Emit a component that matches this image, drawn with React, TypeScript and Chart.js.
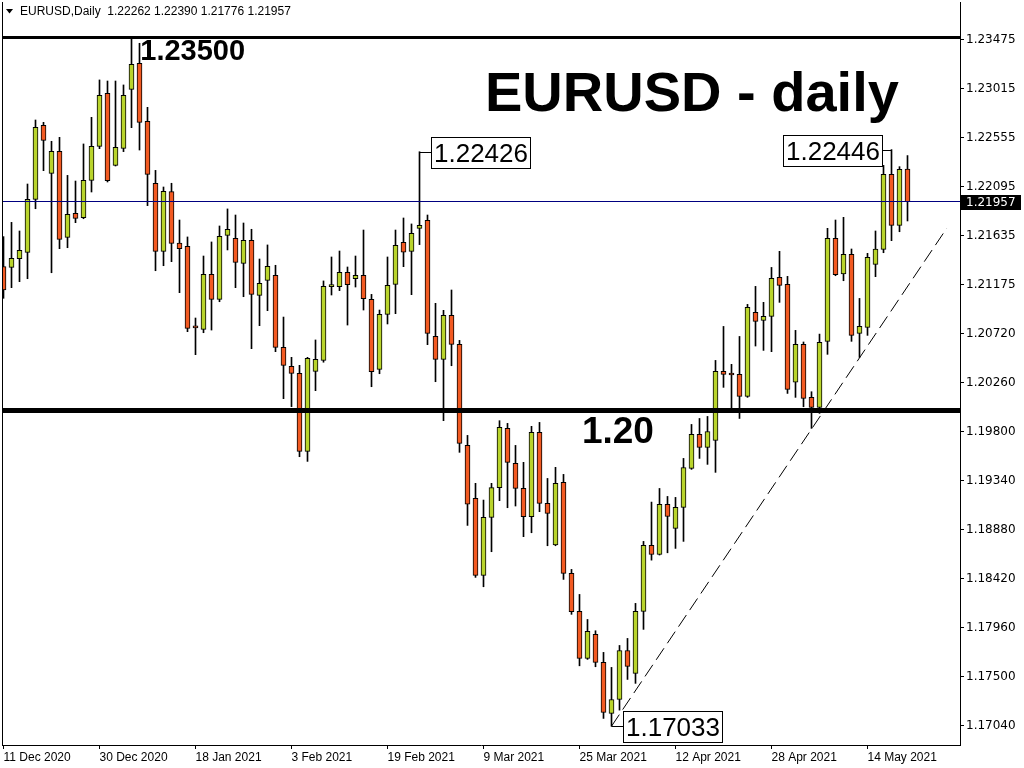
import React, { useEffect, useRef } from "react";
import { Chart, registerables } from "chart.js";

Chart.register(...registerables);

// ---- data ----
const opens = [
  1.21347, 1.2134, 1.21422, 1.21481, 1.21979, 1.22674, 1.22223, 1.2243, 1.21622, 1.21847,
  1.21807, 1.22157, 1.22477, 1.22974, 1.22298, 1.22458, 1.23012, 1.23256, 1.22711, 1.22129,
  1.21491, 1.22051, 1.21569, 1.21538, 1.20776, 1.20759, 1.21275, 1.2104, 1.21641, 1.21613,
  1.21378, 1.21594, 1.21078, 1.21219, 1.21266, 1.2059, 1.20411, 1.20346, 1.19613, 1.20364,
  1.20468, 1.2116, 1.21159, 1.21294, 1.21234, 1.21266, 1.2104, 1.20383, 1.20899, 1.21181,
  1.21575, 1.21491, 1.21707, 1.21782, 1.20693, 1.20477, 1.2089, 1.20618, 1.19669, 1.19172,
  1.18449, 1.18993, 1.19272, 1.19829, 1.195, 1.19266, 1.19, 1.19791, 1.19125, 1.18734,
  1.19322, 1.18467, 1.18111, 1.17669, 1.17895, 1.17632, 1.17153, 1.17284, 1.17744, 1.17529,
  1.18111, 1.1873, 1.18645, 1.19115, 1.1889, 1.19087, 1.19453, 1.19772, 1.1965, 1.19716,
  1.20364, 1.20336, 1.20336, 1.20129, 1.20918, 1.20843, 1.2088, 1.21246, 1.21181, 1.20262,
  1.20617, 1.2012, 1.20026, 1.20646, 1.21613, 1.21278, 1.21462, 1.20721, 1.20777, 1.21369,
  1.2151, 1.22214, 1.21735, 1.22262,
];
const highs = [
  1.21629, 1.21763, 1.21682, 1.22123, 1.22724, 1.22702, 1.22524, 1.22561, 1.22204, 1.22151,
  1.22499, 1.22749, 1.231, 1.2309, 1.2309, 1.23053, 1.23491, 1.23444, 1.22843, 1.22251,
  1.22095, 1.2213, 1.21785, 1.21626, 1.20865, 1.21447, 1.21579, 1.21729, 1.21889, 1.21832,
  1.21757, 1.21698, 1.21419, 1.21551, 1.2136, 1.20874, 1.20496, 1.20421, 1.20496, 1.20659,
  1.21213, 1.21438, 1.21494, 1.21344, 1.21447, 1.21691, 1.21087, 1.2094, 1.21438, 1.21691,
  1.21804, 1.21748, 1.22426, 1.21832, 1.21003, 1.20937, 1.21128, 1.20655, 1.19763, 1.19313,
  1.19156, 1.19313, 1.19901, 1.19876, 1.19669, 1.1951, 1.19848, 1.19885, 1.19359, 1.19463,
  1.19397, 1.18505, 1.1827, 1.18035, 1.17929, 1.17726, 1.17585, 1.17791, 1.17857, 1.18186,
  1.18768, 1.19137, 1.19265, 1.1919, 1.19181, 1.19547, 1.19866, 1.19922, 1.19941, 1.20467,
  1.20786, 1.2043, 1.20692, 1.20993, 1.21162, 1.21012, 1.2134, 1.21491, 1.21256, 1.20749,
  1.2064, 1.20173, 1.20714, 1.21707, 1.21785, 1.2181, 1.21513, 1.21049, 1.21472, 1.21682,
  1.22298, 1.22446, 1.22286, 1.2239,
];
const lows = [
  1.2105, 1.2115, 1.21206, 1.21234, 1.21891, 1.22248, 1.2129, 1.21516, 1.21525, 1.2176,
  1.21797, 1.22048, 1.22455, 1.22142, 1.22292, 1.22427, 1.22652, 1.22442, 1.2192, 1.21309,
  1.21356, 1.21394, 1.21103, 1.20737, 1.20521, 1.20727, 1.20752, 1.21018, 1.21504, 1.2115,
  1.21065, 1.20577, 1.20793, 1.20934, 1.20549, 1.20108, 1.20033, 1.19563, 1.19519, 1.20183,
  1.2045, 1.21081, 1.21122, 1.20799, 1.21156, 1.2094, 1.2022, 1.20342, 1.20809, 1.20906,
  1.21347, 1.21084, 1.21554, 1.20615, 1.20267, 1.19901, 1.20417, 1.19604, 1.18918, 1.1843,
  1.18342, 1.18671, 1.1915, 1.19084, 1.191, 1.18812, 1.18849, 1.19047, 1.18727, 1.18727,
  1.18411, 1.18083, 1.176, 1.1766, 1.17591, 1.17106, 1.17033, 1.17184, 1.17472, 1.17435,
  1.17942, 1.18592, 1.1864, 1.18661, 1.18702, 1.18768, 1.19444, 1.19547, 1.19491, 1.19416,
  1.20214, 1.20016, 1.19922, 1.2012, 1.20602, 1.20561, 1.20549, 1.21012, 1.20157, 1.2012,
  1.20032, 1.19829, 1.1997, 1.20524, 1.21262, 1.21215, 1.20646, 1.20495, 1.20702, 1.21253,
  1.21478, 1.21591, 1.21675, 1.21776,
];
const closes = [
  1.21128, 1.21425, 1.215, 1.21979, 1.22655, 1.22533, 1.2243, 1.21603, 1.21838, 1.21801,
  1.22157, 1.22477, 1.22956, 1.22154, 1.22467, 1.22956, 1.23247, 1.22702, 1.22214, 1.21491,
  1.22054, 1.21566, 1.21516, 1.20768, 1.20772, 1.21275, 1.2104, 1.21632, 1.21698, 1.21388,
  1.21594, 1.21087, 1.21191, 1.2135, 1.2059, 1.20421, 1.20346, 1.19613, 1.20486, 1.20477,
  1.21163, 1.21166, 1.21294, 1.21178, 1.21266, 1.21047, 1.20361, 1.20899, 1.21172, 1.21547,
  1.21482, 1.2166, 1.21735, 1.20721, 1.20477, 1.2089, 1.20618, 1.19688, 1.19118, 1.18449,
  1.18993, 1.19272, 1.19838, 1.1951, 1.19266, 1.19, 1.19791, 1.19125, 1.19031, 1.19313,
  1.18467, 1.18108, 1.17669, 1.17923, 1.17632, 1.17162, 1.17284, 1.17744, 1.17594, 1.18111,
  1.1873, 1.18645, 1.19115, 1.19002, 1.19087, 1.19462, 1.19772, 1.1965, 1.198, 1.20365,
  1.20336, 1.2033, 1.20129, 1.20965, 1.20833, 1.2088, 1.21237, 1.21171, 1.20195, 1.20617,
  1.2011, 1.20026, 1.20636, 1.21613, 1.21272, 1.21462, 1.20702, 1.20786, 1.21434, 1.21513,
  1.22214, 1.21735, 1.22261, 1.21957,
];

const xTickIndex = [0, 12, 24, 36, 48, 60, 72, 84, 96, 108];
const xTickLabels = [
  "11 Dec 2020", "30 Dec 2020", "18 Jan 2021", "3 Feb 2021", "19 Feb 2021",
  "9 Mar 2021", "25 Mar 2021", "12 Apr 2021", "28 Apr 2021", "14 May 2021",
];
const yTickValues = [
  1.1704, 1.175, 1.1796, 1.1842, 1.1888, 1.1934, 1.198, 1.2026, 1.2072, 1.21175,
  1.21635, 1.22095, 1.22555, 1.23015, 1.23475,
];
const lastPrice = 1.21957;
const headerText = "EURUSD,Daily  1.22262 1.22390 1.21776 1.21957";
const titleText = "EURUSD - daily";
const levelPrices = [1.235, 1.2];
const levelWidths = [3, 5];
const trendLine = [
  { x: 76, y: 1.17033 },
  { x: 117.9, y: 1.21707 },
];
const markIndex = [52, 111, 76];
const markPrice = [1.22426, 1.22446, 1.17033];
const markSide = [1, -1, 1];
const noteTexts = ["1.23500", "1.20"];
const noteIndex = [17.1, 72.3];
const notePrice = [1.2329, 1.19692];
const noteSizes = [29, 37];

const BULL = "#B9D42C";
const BEAR = "#F25A22";
const FONT = "'Liberation Sans', Arial, sans-serif";
const AXIS_FONT = "'DejaVu Sans', Verdana, sans-serif";

const overlay = {
  id: "overlay",
  afterDatasetsDraw(chart: any) {
    const { ctx, chartArea: a, scales } = chart;
    const x = scales.x;
    const y = scales.y;
    ctx.save();
    ctx.beginPath();
    ctx.rect(a.left, a.top, a.right - a.left, a.bottom - a.top);
    ctx.clip();
    ctx.fillStyle = "#000";
    levelPrices.forEach((p, i) => {
      const py = y.getPixelForValue(p);
      const w = levelWidths[i];
      ctx.fillRect(a.left, Math.round(py - w / 2), a.right - a.left, w);
    });
    const lp = Math.round(y.getPixelForValue(lastPrice) - 0.5);
    ctx.fillStyle = "#000080";
    ctx.fillRect(a.left, lp, a.right - a.left, 1);
    ctx.fillStyle = "#000";
    ctx.textBaseline = "alphabetic";
    ctx.textAlign = "left";
    noteTexts.forEach((t, i) => {
      ctx.font = `bold ${noteSizes[i]}px ${FONT}`;
      ctx.fillText(t, x.getPixelForValue(noteIndex[i]), y.getPixelForValue(notePrice[i]));
    });
    ctx.font = `26px ${FONT}`;
    markIndex.forEach((idx, i) => {
      const cx = x.getPixelForValue(idx);
      const py = Math.round(y.getPixelForValue(markPrice[i])) + 0.5;
      const txt = markPrice[i].toFixed(5);
      const tw = ctx.measureText(txt).width;
      const bw = Math.round(tw + 5);
      const bh = 31;
      const side = markSide[i];
      const bx = side > 0 ? Math.round(cx + 11) : Math.round(cx - 10 - bw);
      const by = Math.round(py - bh / 2);
      ctx.strokeStyle = "#000";
      ctx.lineWidth = 1;
      ctx.beginPath();
      if (side > 0) {
        ctx.moveTo(cx, py);
        ctx.lineTo(bx, py);
      } else {
        ctx.moveTo(bx + bw, py);
        ctx.lineTo(cx, py);
      }
      ctx.stroke();
      ctx.fillStyle = "#fff";
      ctx.fillRect(bx + 0.5, by + 0.5, bw, bh);
      ctx.strokeRect(bx + 0.5, by + 0.5, bw, bh);
      ctx.fillStyle = "#000";
      ctx.textAlign = "center";
      ctx.textBaseline = "middle";
      ctx.fillText(txt, bx + 0.5 + bw / 2, by + bh / 2 + 2);
      ctx.textAlign = "left";
      ctx.textBaseline = "alphabetic";
    });
    ctx.font = `bold 56px ${FONT}`;
    ctx.fillText(titleText, 485, 111);
    ctx.restore();
  },
  afterDraw(chart: any) {
    const { ctx, chartArea: a, scales } = chart;
    const y = scales.y;
    ctx.save();
    ctx.fillStyle = "#000";
    ctx.fillRect(a.left, a.top, 1, a.bottom - a.top);
    ctx.beginPath();
    ctx.moveTo(6, 9);
    ctx.lineTo(13, 9);
    ctx.lineTo(9.5, 13.5);
    ctx.closePath();
    ctx.fill();
    ctx.font = `12px ${FONT}`;
    ctx.textBaseline = "middle";
    ctx.fillText(headerText, 20, 12);
    const py = Math.round(y.getPixelForValue(lastPrice));
    ctx.fillRect(a.right + 1, py - 7, 60, 15);
    ctx.fillStyle = "#fff";
    ctx.textAlign = "left";
    ctx.font = `12px ${AXIS_FONT}`;
    ctx.fillText(lastPrice.toFixed(5), a.right + 6, py + 1);
    ctx.restore();
  },
};

export default function App() {
  const ref = useRef<HTMLCanvasElement>(null);
  useEffect(() => {
    document.body.style.margin = "0";
    const bodies = opens.map((o, i) => ({ x: i, y: [o, closes[i]] }));
    const wicks = lows.map((l, i) => ({ x: i, y: [l, highs[i]] }));
    const colors = opens.map((o, i) => (closes[i] >= o ? BULL : BEAR));
    const chart = new Chart(ref.current as HTMLCanvasElement, {
      type: "bar",
      data: {
        datasets: [
          {
            type: "line",
            data: trendLine,
            borderColor: "#000",
            borderWidth: 1,
            borderDash: [14, 6],
            pointRadius: 0,
            order: 0,
          } as any,
          {
            type: "bar",
            data: bodies,
            backgroundColor: colors,
            borderColor: "#000",
            borderWidth: 1,
            borderSkipped: false,
            barThickness: 5,
            grouped: false,
            minBarLength: 2,
            order: 1,
          } as any,
          {
            type: "bar",
            data: wicks,
            backgroundColor: "#000",
            borderWidth: 0,
            barThickness: 1,
            grouped: false,
            order: 2,
          } as any,
        ],
      },
      options: {
        responsive: false,
        devicePixelRatio: 1,
        animation: false,
        events: [],
        layout: { padding: { left: 2, top: 2, right: 0, bottom: 0 } },
        plugins: { legend: { display: false }, tooltip: { enabled: false } },
        scales: {
          x: {
            type: "linear",
            offset: false,
            min: -0.1875,
            max: 119.5625,
            afterBuildTicks: (s: any) => {
              s.ticks = xTickIndex.map((v) => ({ value: v }));
            },
            afterFit: (s: any) => {
              s.height = 23;
              s.paddingLeft = 0;
              s.paddingRight = 0;
            },
            ticks: {
              autoSkip: false,
              maxRotation: 0,
              align: "start",
              padding: 1,
              color: "#000",
              font: { family: FONT, size: 12 },
              callback: (_v: any, i: number) => xTickLabels[i],
            },
            grid: { offset: false, drawOnChartArea: false, drawTicks: true, tickLength: 4, color: "#000" },
            border: { display: true, color: "#000" },
          } as any,
          y: {
            type: "linear",
            position: "right",
            min: 1.168565,
            max: 1.238317,
            afterBuildTicks: (s: any) => {
              s.ticks = yTickValues.map((v) => ({ value: v }));
            },
            afterFit: (s: any) => {
              s.width = 64;
              s.paddingTop = 0;
              s.paddingBottom = 0;
            },
            ticks: {
              autoSkip: false,
              padding: 2,
              color: "#000",
              font: { family: AXIS_FONT, size: 12 },
              callback: (_v: any, i: number) => yTickValues[i].toFixed(5),
            },
            grid: { drawOnChartArea: false, drawTicks: true, tickLength: 4, color: "#000" },
            border: { display: true, color: "#000" },
          } as any,
        },
      },
      plugins: [overlay],
    });
    return () => chart.destroy();
  }, []);
  return (
    <div style={{ position: "absolute", left: 0, top: 0, width: 1024, height: 768, background: "#fff" }}>
      <canvas ref={ref} width={1024} height={768} style={{ display: "block", width: 1024, height: 768 }} />
    </div>
  );
}
